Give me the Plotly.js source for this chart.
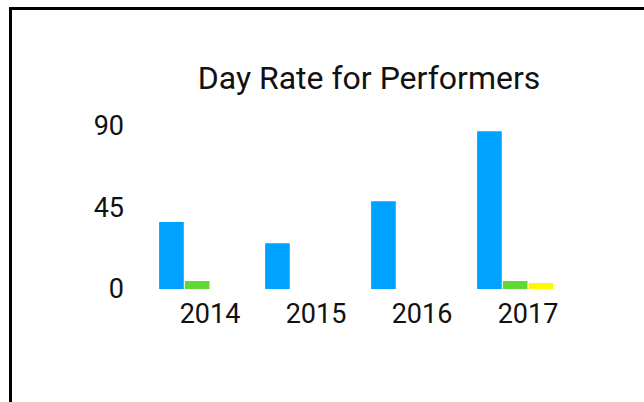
<!DOCTYPE html>
<html>
<head>
<meta charset="utf-8">
<script src="https://cdn.plot.ly/plotly-3.0.1.min.js"></script>
<style>
  html, body { margin: 0; padding: 0; overflow: hidden; background: #fff; width: 644px; height: 402px; }
  #frame { position: absolute; left: 9px; top: 7px; width: 800px; height: 600px; border: 3px solid #000; box-sizing: border-box; }
  #chart { position: absolute; left: 0; top: 0; width: 644px; height: 402px; }
</style>
</head>
<body>
<div id="frame"></div>
<div id="chart"></div>
<script>
const years = ["2014", "2015", "2016", "2017"];
const seriesA = [36.8, 25.2, 48.3, 86.7];
const seriesB = [4.4, null, null, 4.4];
const seriesC = [null, null, null, 3.3];
const seriesD = [0, 0, 0, 0];
const yTicks = [0, 45, 90];
const chartTitle = "Day Rate for Performers";

const colors = ["#00A2FF", "#61D836", "#FFF700", "#FF9300"];
const series = [seriesA, seriesB, seriesC, seriesD];
const traces = series.map((vals, i) => ({
  type: "bar",
  x: years,
  y: vals,
  name: "Series " + (i + 1),
  marker: { color: colors[i], line: { width: 0 } },
  hoverinfo: "skip"
}));

const layout = {
  width: 644,
  height: 402,
  paper_bgcolor: "rgba(0,0,0,0)",
  plot_bgcolor: "rgba(0,0,0,0)",
  font: { family: "Roboto, sans-serif", color: "#111", size: 27 },
  title: {
    text: chartTitle,
    font: { family: "Roboto, sans-serif", size: 32, color: "#111" },
    x: 0.5, xref: "paper",
    y: 1 - 78 / 402, yref: "container", yanchor: "middle"
  },
  showlegend: false,
  barmode: "group",
  bargap: 0.03,
  bargroupgap: 0.04,
  margin: { l: 157, r: 63, t: 123, b: 113, pad: 0 },
  xaxis: {
    type: "category",
    range: [-0.5, 3.5],
    showgrid: false, zeroline: false, showline: false,
    ticks: "",
    tickfont: { size: 27, color: "#111" },
    ticklabelstandoff: 6
  },
  yaxis: {
    range: [0, 91.3],
    tickvals: yTicks,
    ticktext: yTicks.map(String),
    showgrid: false, zeroline: false, showline: false,
    ticks: "",
    tickfont: { size: 27, color: "#111" },
    ticklabelstandoff: 32
  }
};

Plotly.newPlot("chart", traces, layout, { staticPlot: true, displayModeBar: false });
</script>
</body>
</html>
